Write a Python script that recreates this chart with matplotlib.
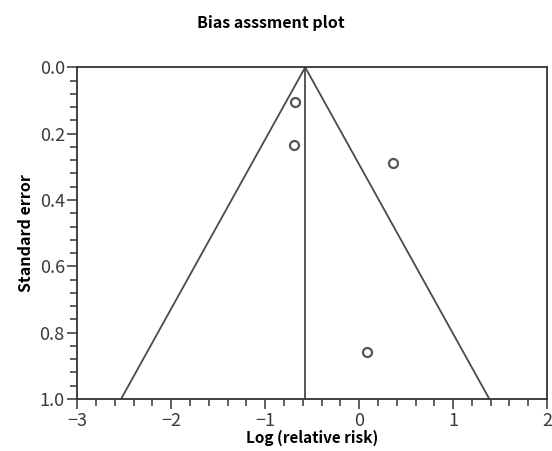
import numpy as np
import matplotlib
matplotlib.use("Agg")
import matplotlib.pyplot as plt
from matplotlib.ticker import MultipleLocator

plt.rcParams['font.family'] = ['Noto Sans CJK KR', 'DejaVu Sans']

# study estimates
log_rr = [-0.683, -0.690, 0.364, 0.087]
std_err = [0.106, 0.234, 0.289, 0.859]
pooled = -0.574
se_max = 1.0

fig = plt.figure(figsize=(5.52, 4.51), dpi=100)
ax = fig.add_axes([0.140, 0.1153, 0.851, 0.7355])

line_col = '#4a4a4a'
# pseudo 95% confidence funnel
se_line = np.array([0.0, se_max])
ax.plot(pooled - 1.96 * se_line, se_line, color=line_col, lw=1.3)
ax.plot(pooled + 1.96 * se_line, se_line, color=line_col, lw=1.3)
ax.plot([pooled, pooled], [0, se_max], color=line_col, lw=1.3)

ax.scatter(log_rr, std_err, s=42, facecolors='white', edgecolors='#555555', linewidths=1.6, zorder=3)

ax.set_xlim(-3, 2)
ax.set_ylim(1.0, 0.0)
ax.xaxis.set_major_locator(MultipleLocator(1))
ax.xaxis.set_minor_locator(MultipleLocator(0.2))
ax.yaxis.set_major_locator(MultipleLocator(0.2))
ax.yaxis.set_minor_locator(MultipleLocator(0.04))
ax.yaxis.set_major_formatter(plt.FormatStrFormatter('%.1f'))

for s in ax.spines.values():
    s.set_color('#333333')
    s.set_linewidth(1.3)
ax.tick_params(which='major', length=7.5, width=1.2, color='#444444', labelsize=13, labelcolor='#3a3a3a')
ax.tick_params(axis='x', which='major', pad=2)
ax.tick_params(axis='y', which='major', pad=1.5)
ax.tick_params(which='minor', length=5, width=1.2, color='#444444')

ax.set_xlabel('Log (relative risk)', fontsize=11, fontweight='bold', labelpad=0)
ax.set_ylabel('Standard error', fontsize=11.5, fontweight='bold', labelpad=4)
fig.text(0.49, 0.950, 'Bias asssment plot', ha='center', va='center', fontsize=11.5, fontweight='bold')

fig.savefig('out.png', dpi=100)
